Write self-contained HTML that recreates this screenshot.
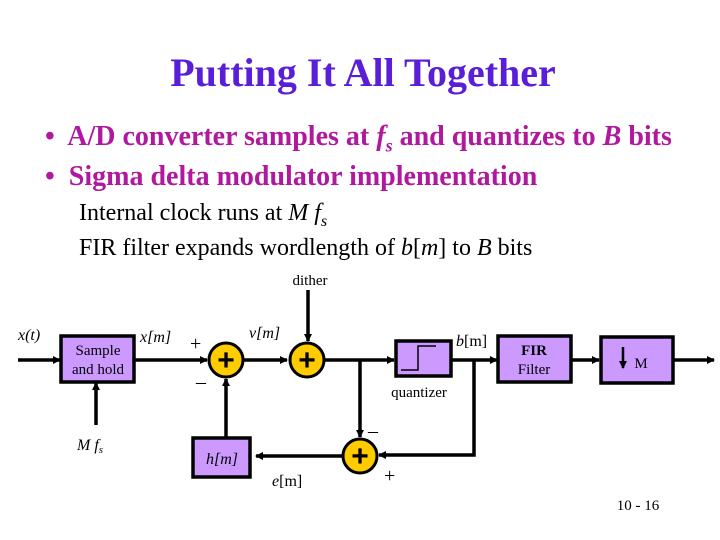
<!DOCTYPE html>
<html><head><meta charset="utf-8"><style>
html,body{margin:0;padding:0;background:#fff;}
body{width:720px;height:540px;position:relative;overflow:hidden;font-family:"Liberation Serif",serif;}
.t{position:absolute;left:0;width:726px;top:49px;text-align:center;font-size:40px;font-weight:bold;color:#5a1ed8;}
.b{position:absolute;left:45px;font-size:28px;font-weight:bold;color:#b0189e;white-space:nowrap;}
.s{position:absolute;left:79px;font-size:24px;color:#000;white-space:nowrap;}
</style></head><body>
<div class="t">Putting It All Together</div>
<div class="b" style="top:121px">•&nbsp; A/D converter samples at <i>f<sub style="font-size:18px">s</sub></i> and quantizes to <i>B</i> bits</div>
<div class="b" style="top:161px">•&nbsp; Sigma delta modulator implementation</div>
<div class="s" style="top:200px">Internal clock runs at <i>M f<sub style="font-size:16px">s</sub></i></div>
<div class="s" style="top:235px">FIR filter expands wordlength of <i>b</i>[<i>m</i>] to <i>B</i> bits</div>
<svg width="720" height="540" style="position:absolute;left:0;top:0" font-family="Liberation Serif, serif">
<defs><marker id="a" markerWidth="8" markerHeight="8" refX="7" refY="4" orient="auto" markerUnits="userSpaceOnUse"><path d="M0,0 L8,4 L0,8 z" fill="#000"/></marker></defs>
<g stroke="#000" stroke-width="3.5" fill="none">
<line x1="18" y1="360" x2="60" y2="360" marker-end="url(#a)"/>
<line x1="134" y1="360" x2="207" y2="360" marker-end="url(#a)"/>
<line x1="244" y1="360" x2="287" y2="360" marker-end="url(#a)"/>
<line x1="324" y1="360" x2="394" y2="360" marker-end="url(#a)"/>
<line x1="451" y1="360" x2="497" y2="360" marker-end="url(#a)"/>
<line x1="571" y1="360" x2="599" y2="360" marker-end="url(#a)"/>
<line x1="673" y1="360" x2="714" y2="360" marker-end="url(#a)"/>
<line x1="96" y1="425" x2="96" y2="383" marker-end="url(#a)"/>
<line x1="308" y1="290" x2="308" y2="341" marker-end="url(#a)"/>
<line x1="360" y1="360" x2="360" y2="437" marker-end="url(#a)"/>
<polyline points="474,360 474,455 379,455" marker-end="url(#a)"/>
<line x1="342" y1="456" x2="256" y2="456" marker-end="url(#a)"/>
<line x1="226" y1="437" x2="226" y2="379" marker-end="url(#a)"/>
</g>
<g stroke="#000" stroke-width="3.5" fill="#cc99ff">
<rect x="61" y="336" width="73" height="46"/>
<rect x="396" y="341" width="55" height="35"/>
<rect x="498" y="336" width="73" height="46"/>
<rect x="601" y="337" width="72" height="46"/>
<rect x="193" y="438" width="57" height="39"/>
</g>
<polyline points="401,370 418,370 418,346 436,346" stroke="#000" stroke-width="1.5" fill="none"/>
<line x1="623" y1="347" x2="623" y2="368" stroke="#000" stroke-width="2.5" marker-end="url(#a)"/>
<g stroke="#000" stroke-width="3" fill="#ffcc00">
<circle cx="226" cy="360" r="17"/><circle cx="307" cy="360" r="17"/><circle cx="360" cy="456" r="17"/>
</g>
<g font-size="30" font-weight="bold" text-anchor="middle" font-family="Liberation Sans, sans-serif">
<text x="226" y="370">+</text><text x="307" y="370">+</text><text x="360" y="466">+</text>
</g>
<g font-size="15" text-anchor="middle">
<text x="98" y="355">Sample</text><text x="98" y="374">and hold</text>
<text x="534" y="355" font-weight="bold">FIR</text><text x="534" y="374">Filter</text>
<text x="641" y="368">M</text>
<text x="419" y="397">quantizer</text>
<text x="310" y="285">dither</text>
<text x="638" y="510">10 - 16</text>
</g>
<g font-size="16">
<text x="18" y="340" font-style="italic">x(t)</text>
<text x="140" y="342" font-style="italic">x[m]</text>
<text x="249" y="338" font-style="italic">v[m]</text>
<text x="456" y="346"><tspan font-style="italic">b</tspan>[m]</text>
<text x="206" y="464" font-style="italic">h[m]</text>
<text x="272" y="486"><tspan font-style="italic">e</tspan>[m]</text>
<text x="77" y="450" font-style="italic">M f<tspan font-size="11" dy="3">s</tspan></text>
<text x="190" y="350" font-size="20">+</text>
<text x="196" y="388" font-size="20">–</text>
<text x="368" y="437" font-size="20">–</text>
<text x="384" y="482" font-size="20">+</text>
</g>
</svg>
</body></html>
